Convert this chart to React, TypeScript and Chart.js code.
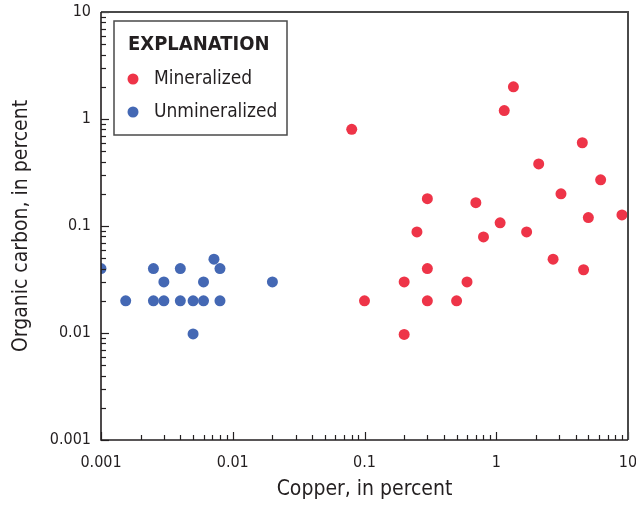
import React, { useEffect, useRef } from "react";
import { Chart, registerables } from "chart.js";

Chart.register(...registerables);

// ---- Data ----
const mineralizedCopper = [1.35, 1.15, 0.08, 4.5, 2.1, 6.2, 0.3, 0.7, 3.1, 5, 9, 1.07, 0.25, 0.8, 1.7, 2.7, 4.6, 0.3, 0.2, 0.6, 0.1, 0.3, 0.5, 0.2];
const mineralizedCarbon = [2.0, 1.2, 0.8, 0.6, 0.38, 0.27, 0.18, 0.165, 0.2, 0.12, 0.127, 0.107, 0.088, 0.079, 0.088, 0.049, 0.039, 0.04, 0.03, 0.03, 0.02, 0.02, 0.02, 0.0097];

const unmineralizedCopper = [0.001, 0.00154, 0.0025, 0.0025, 0.003, 0.003, 0.004, 0.004, 0.005, 0.005, 0.006, 0.006, 0.0072, 0.008, 0.008, 0.02];
const unmineralizedCarbon = [0.04, 0.02, 0.04, 0.02, 0.03, 0.02, 0.04, 0.02, 0.02, 0.0098, 0.03, 0.02, 0.049, 0.04, 0.02, 0.03];

const decadeValues = [0.001, 0.01, 0.1, 1, 10];
const decadeLabels = ["0.001", "0.01", "0.1", "1", "10"];

const seriesLabels = ["Mineralized", "Unmineralized"];
const seriesColors = ["#ee3448", "#4468b4"];
const legendTitle = "EXPLANATION";
const xTitle = "Copper, in percent";
const yTitle = "Organic carbon, in percent";

const FONT = "'Liberation Sans Narrow', 'DejaVu Sans Condensed', 'Arial Narrow', sans-serif";
const INK = "#231f20";

const toPoints = (xs: number[], ys: number[]) => xs.map((x, i) => ({ x, y: ys[i] }));

const framePlugin = {
  id: "frameTicksLegend",
  afterDraw(chart: any) {
    const { ctx, chartArea } = chart;
    const xs = chart.scales.x;
    const ys = chart.scales.y;
    ctx.save();
    // ticks (inward) on left and bottom
    ctx.strokeStyle = INK;
    ctx.lineWidth = 1.2;
    for (let d = 0; d < decadeValues.length; d++) {
      for (let k = 1; k <= 9; k++) {
        const v = decadeValues[d] * k;
        if (v > decadeValues[decadeValues.length - 1] * 1.0001) continue;
        const len = k === 1 ? 8 : 5;
        const px = Math.round(xs.getPixelForValue(v)) + 0.5;
        ctx.beginPath();
        ctx.moveTo(px, chartArea.bottom);
        ctx.lineTo(px, chartArea.bottom - len);
        ctx.stroke();
        const py = Math.round(ys.getPixelForValue(v)) + 0.5;
        ctx.beginPath();
        ctx.moveTo(chartArea.left, py);
        ctx.lineTo(chartArea.left + len, py);
        ctx.stroke();
      }
    }
    // frame
    ctx.lineWidth = 2;
    ctx.strokeStyle = "#4a4a4a";
    ctx.beginPath();
    ctx.moveTo(chartArea.left, chartArea.top);
    ctx.lineTo(chartArea.right, chartArea.top);
    ctx.lineTo(chartArea.right, chartArea.bottom);
    ctx.stroke();
    ctx.lineWidth = 1.6;
    ctx.strokeStyle = INK;
    ctx.beginPath();
    ctx.moveTo(chartArea.left, chartArea.top);
    ctx.lineTo(chartArea.left, chartArea.bottom);
    ctx.lineTo(chartArea.right, chartArea.bottom);
    ctx.stroke();

    // legend box
    const bx = chartArea.left + 13;
    const by = chartArea.top + 9;
    const bw = 173;
    const bh = 114;
    ctx.fillStyle = "#ffffff";
    ctx.fillRect(bx, by, bw, bh);
    ctx.strokeStyle = "#4a4a4a";
    ctx.lineWidth = 1.5;
    ctx.strokeRect(bx, by, bw, bh);
    ctx.fillStyle = INK;
    ctx.textBaseline = "middle";
    ctx.textAlign = "left";
    ctx.font = `bold 20px ${FONT}`;
    ctx.fillText(legendTitle, bx + 14, by + 24);
    ctx.font = `19px ${FONT}`;
    seriesLabels.forEach((lab, i) => {
      const cy = by + 58 + i * 33;
      ctx.fillStyle = seriesColors[i];
      ctx.beginPath();
      ctx.arc(bx + 19, cy, 5.5, 0, Math.PI * 2);
      ctx.fill();
      ctx.fillStyle = INK;
      ctx.fillText(lab, bx + 40, cy);
    });
    ctx.restore();
  },
};

export default function App() {
  const ref = useRef<HTMLCanvasElement | null>(null);
  useEffect(() => {
    if (!ref.current) return;
    const chart = new Chart(ref.current, {
      type: "scatter",
      data: {
        datasets: [
          {
            label: seriesLabels[0],
            data: toPoints(mineralizedCopper, mineralizedCarbon),
            backgroundColor: seriesColors[0],
            borderWidth: 0,
            pointRadius: 5.5,
          },
          {
            label: seriesLabels[1],
            data: toPoints(unmineralizedCopper, unmineralizedCarbon),
            backgroundColor: seriesColors[1],
            borderWidth: 0,
            pointRadius: 5.5,
          },
        ],
      },
      options: {
        animation: false,
        responsive: true,
        maintainAspectRatio: false,
        layout: { padding: { top: 12, right: 8, left: 0, bottom: 0 } },
        plugins: { legend: { display: false }, tooltip: { enabled: false } },
        scales: {
          x: {
            type: "logarithmic",
            min: 0.001,
            max: 10,
            grid: { display: false, drawTicks: false },
            border: { display: false },
            afterBuildTicks: (s: any) => {
              s.ticks = decadeValues.map((v) => ({ value: v }));
            },
            afterFit: (s: any) => {
              s.height = 65;
              s.paddingLeft = 0;
              s.paddingRight = 0;
            },
            ticks: {
              autoSkip: false,
              maxRotation: 0,
              padding: 13,
              color: INK,
              font: { family: FONT, size: 16 },
              callback: (v: any) => {
                const i = decadeValues.findIndex((d) => Math.abs(d - Number(v)) / d < 1e-6);
                return i >= 0 ? decadeLabels[i] : "";
              },
            },
            title: {
              display: true,
              text: xTitle,
              color: INK,
              font: { family: FONT, size: 21 },
              padding: { top: 0, bottom: 3 },
            },
          },
          y: {
            type: "logarithmic",
            min: 0.001,
            max: 10,
            grid: { display: false, drawTicks: false },
            border: { display: false },
            afterBuildTicks: (s: any) => {
              s.ticks = decadeValues.map((v) => ({ value: v }));
            },
            afterFit: (s: any) => {
              s.width = 101;
              s.paddingTop = 0;
              s.paddingBottom = 0;
            },
            ticks: {
              autoSkip: false,
              padding: 10,
              color: INK,
              font: { family: FONT, size: 16 },
              callback: (v: any) => {
                const i = decadeValues.findIndex((d) => Math.abs(d - Number(v)) / d < 1e-6);
                return i >= 0 ? decadeLabels[i] : "";
              },
            },
            title: {
              display: true,
              text: yTitle,
              color: INK,
              font: { family: FONT, size: 21 },
              padding: { top: 9, bottom: 0 },
            },
          },
        },
      },
      plugins: [framePlugin],
    });
    return () => chart.destroy();
  }, []);
  return (
    <div style={{ position: "absolute", left: 0, top: 0, width: 636, height: 505, background: "#fff" }}>
      <canvas ref={ref} />
    </div>
  );
}
